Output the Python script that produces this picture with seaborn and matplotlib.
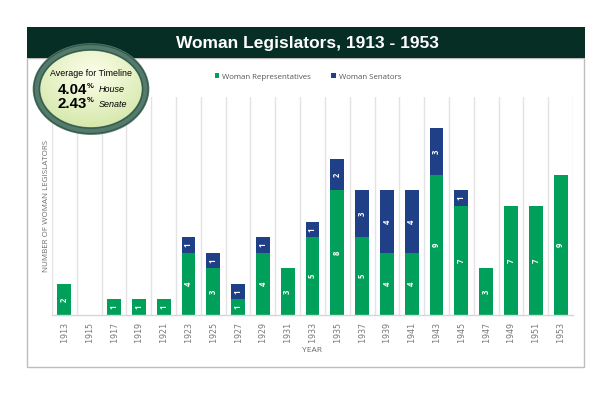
import matplotlib
matplotlib.use("Agg")
import matplotlib.pyplot as plt
import seaborn as sns
import numpy as np
import pandas as pd
from matplotlib.patches import Rectangle, Ellipse

# ---------------- data ----------------
years = ["1913", "1915", "1917", "1919", "1921", "1923", "1925", "1927", "1929",
         "1931", "1933", "1935", "1937", "1939", "1941", "1943", "1945", "1947",
         "1949", "1951", "1953"]
representatives = [2, 0, 1, 1, 1, 4, 3, 1, 4, 3, 5, 8, 5, 4, 4, 9, 7, 3, 7, 7, 9]
senators = [0, 0, 0, 0, 0, 1, 1, 1, 1, 0, 1, 2, 3, 4, 4, 3, 1, 0, 0, 0, 0]
series_names = ["Woman Representatives", "Woman Senators"]
title_text = "Woman Legislators, 1913 - 1953"
badge_title = "Average for Timeline"
avg_house = "4.04"
avg_senate = "2.43"
x_label = "YEAR"
y_label = "NUMBER OF WOMAN LEGISLATORS"

GREEN = "#00a05a"
NAVY = "#1f3f86"
GRID = "#e3e3e3"
TXT = "#7a7a7a"

sns.set_theme(style="white")
plt.rcParams["font.family"] = ["Open Sans", "DejaVu Sans"]

df = pd.DataFrame({"year": years, "rep": representatives, "sen": senators})

W, H = 612, 396
fig = plt.figure(figsize=(W / 100, H / 100), dpi=100)
fig.patch.set_facecolor("white")

# main axes (pixel layout)
L, R, T, B = 52, 573, 97, 315
ax = fig.add_axes([L / W, 1 - B / H, (R - L) / W, (B - T) / H])
ax.set_facecolor("none")

sns.barplot(data=df, x="year", y="rep", color=GREEN, saturation=1, width=0.56,
            linewidth=0, label=series_names[0], ax=ax)
sns.barplot(data=df, x="year", y="sen", color=NAVY, saturation=1, width=0.56,
            linewidth=0, bottom=df["rep"].to_numpy(), label=series_names[1], ax=ax)

rep_labels = [str(v) if v > 0 else "" for v in representatives]
sen_labels = [str(v) if v > 0 else "" for v in senators]
lab_kw = dict(label_type="center", rotation=90, color="white", fontsize=5.5,
              fontweight="bold")
ax.bar_label(ax.containers[0], labels=rep_labels, **lab_kw)
ax.bar_label(ax.containers[1], labels=sen_labels, **lab_kw)

ax.set_xlim(-0.5, len(years) - 0.5)
ax.set_ylim(0, 14)
ax.set_yticks([])
ax.set_xticks(np.arange(-0.5, len(years) + 0.5, 1), minor=True)
ax.grid(which="minor", axis="x", color=GRID, linewidth=1)
ax.grid(which="major", visible=False)
ax.set_axisbelow(True)
for s in ["top", "right", "left"]:
    ax.spines[s].set_visible(False)
ax.spines["bottom"].set_color("#d6d6d6")
ax.spines["bottom"].set_linewidth(1)
ax.tick_params(axis="x", which="both", length=0, pad=5)
ax.set_xticks(range(len(years)))
ax.set_xticklabels(years, rotation=90, fontsize=6, color=TXT,
                   family="DejaVu Sans Mono", va="top")

ax.set_xlabel(x_label, fontsize=6, color="#666666")
ax.xaxis.set_label_coords(0.5, -(350 - B) / (B - T))
ax.xaxis.label.set_va("center")
ax.set_ylabel(y_label, fontsize=5.8, color="#6e6e6e")
ax.yaxis.set_label_coords(-(L - 47) / (R - L), (B - 206) / (B - T))
ax.yaxis.label.set_va("center")

leg = ax.legend(loc="center", bbox_to_anchor=(308 / W, 1 - 77 / H),
                bbox_transform=fig.transFigure, ncol=2, frameon=False,
                fontsize=5.7, handlelength=0.6, handleheight=0.6,
                handletextpad=0.35, columnspacing=2.6)
for t in leg.get_texts():
    t.set_color("#555555")

# overlay for banner, frame, badge
ov = fig.add_axes([0, 0, 1, 1], zorder=5)
ov.set_xlim(0, W)
ov.set_ylim(H, 0)
ov.axis("off")
ov.patch.set_alpha(0)

ov.add_patch(Rectangle((27, 58), 557, 309, fill=False, edgecolor="#bdbdbd",
                       linewidth=1))
ov.add_patch(Rectangle((27, 27), 558, 31, facecolor="#062e25", edgecolor="none"))
ov.text(307, 43.5, title_text, color="white", fontsize=12.5, fontweight="bold",
        family=["Liberation Sans", "DejaVu Sans"], ha="center", va="center")

# badge
cx, cy, ew, eh = 91, 89, 109, 84
ov.add_patch(Ellipse((cx + 1, cy + 3), ew + 2, eh + 2, facecolor="#000000",
                     alpha=0.18, edgecolor="none"))
clip = Ellipse((cx, cy), ew, eh, facecolor="none", edgecolor="none")
ov.add_patch(clip)
yy, xx = np.mgrid[-1:1:200j, -1:1:200j]
rr = np.clip(np.sqrt(xx ** 2 + (yy + 0.35) ** 2) / 1.4, 0, 1)
c0 = np.array([253, 254, 235]) / 255
c1 = np.array([210, 230, 165]) / 255
img = c0[None, None, :] * (1 - rr[..., None]) + c1[None, None, :] * rr[..., None]
im = ov.imshow(img, extent=(cx - ew / 2, cx + ew / 2, cy + eh / 2, cy - eh / 2),
               interpolation="bilinear", zorder=2)
im.set_clip_path(clip)
ov.set_xlim(0, W)
ov.set_ylim(H, 0)
ov.add_patch(Ellipse((cx, cy), ew, eh, facecolor="none", edgecolor="#55796b",
                     linewidth=5.5, zorder=3))
ov.add_patch(Ellipse((cx, cy), ew + 5, eh + 5, facecolor="none",
                     edgecolor="#2f5a49", linewidth=0.8, zorder=3))
ov.add_patch(Ellipse((cx, cy), ew - 5.5, eh - 5.5, facecolor="none",
                     edgecolor="#2f5a49", linewidth=0.8, zorder=3))

fam = ["Liberation Sans", "DejaVu Sans"]
ov.text(cx, 74, badge_title, fontsize=6.4, family=fam, color="black",
        ha="center", va="center", zorder=4)
for yv, val, word in [(89.5, avg_house, "House"), (104, avg_senate, "Senate")]:
    ov.text(87, yv, val, fontsize=10.8, fontweight="bold", family=fam,
            color="black", ha="right", va="center", zorder=4)
    ov.text(86.8, yv - 3.2, "%", fontsize=5.5, fontweight="bold", family=fam,
            color="black", ha="left", va="center", zorder=4)
    ov.text(98.5, yv + 0.5, word, fontsize=6.5, style="italic", family=fam,
            color="black", ha="left", va="center", zorder=4)

fig.savefig("out.png", dpi=100)
